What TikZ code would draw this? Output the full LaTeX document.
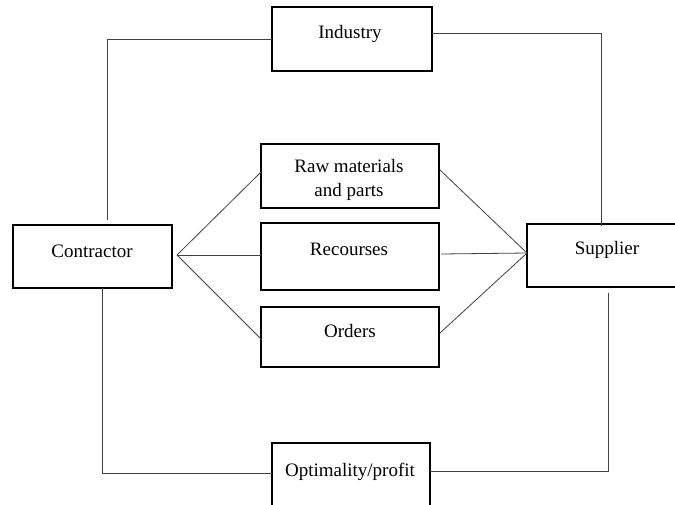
\documentclass[tikz,border=0pt]{standalone}
\usepackage{fontspec}
\setmainfont{Liberation Serif}
\begin{document}
\begin{tikzpicture}[x=1pt,y=-1pt,
  box/.style={draw=black, line width=1.5pt, rectangle, inner sep=0pt, fill=none},
  txt/.style={font=\fontsize{19}{24}\selectfont, anchor=base, inner sep=0pt, align=center},
  conn/.style={draw=black!75, line width=0.8pt}]
\useasboundingbox (0,0) rectangle (675,504);
\clip (0,0) rectangle (675,504);
% boxes
\node[box, minimum width=160pt, minimum height=64pt] (ind) at (352,39) {};
\node[box, minimum width=178pt, minimum height=64pt] (raw) at (350,176) {};
\node[box, minimum width=178pt, minimum height=67pt] (rec) at (350,256.5) {};
\node[box, minimum width=178pt, minimum height=60pt] (ord) at (350,337) {};
\node[box, minimum width=159pt, minimum height=63pt] (con) at (92.5,256.5) {};
\node[box, minimum width=153pt, minimum height=63pt] (sup) at (603.5,255.5) {};
\node[box, minimum width=158pt, minimum height=72pt] (opt) at (351,479) {};
% texts
\node[txt] (indt) at (350,38) {Industry};
\node[txt] (rawt1) at (349,172) {Raw materials};
\node[txt] (rawt2) at (349,196) {and parts};
\node[txt] (rect) at (349,255) {Recourses};
\node[txt] (ordt) at (350,337) {Orders};
\node[txt] (cont) at (92,257) {Contractor};
\node[txt] (supt) at (607,254) {Supplier};
\node[txt] (optt) at (350,476) {Optimality/profit};
% coordinates
\coordinate (cj) at (177,255);
\coordinate (sj) at (527,253);
\coordinate (ctop) at (107,220);
\coordinate (cbot) at (102,288);
\coordinate (stop) at (601,226);
\coordinate (sbot) at (608,293);
\coordinate (rawL) at (261,172);
\coordinate (recL) at (261,255);
\coordinate (ordL) at (262,340);
\coordinate (rawR) at (440,170);
\coordinate (recR) at (441,254);
\coordinate (ordR) at (440,333);
\coordinate (indL) at (272,39);
\coordinate (indR) at (432,33);
\coordinate (optL) at (272,473);
\coordinate (optR) at (430,471);
% connectors
\draw[conn] (ctop) |- (indL);
\draw[conn] (indR) -| (stop);
\draw[conn] (cbot) |- (optL);
\draw[conn] (optR) -| (sbot);
\draw[conn] (cj) -- (rawL);
\draw[conn] (cj) -- (recL);
\draw[conn] (cj) -- (ordL);
\draw[conn] (rawR) -- (sj);
\draw[conn] (recR) -- (sj);
\draw[conn] (ordR) -- (sj);
\end{tikzpicture}
\end{document}
